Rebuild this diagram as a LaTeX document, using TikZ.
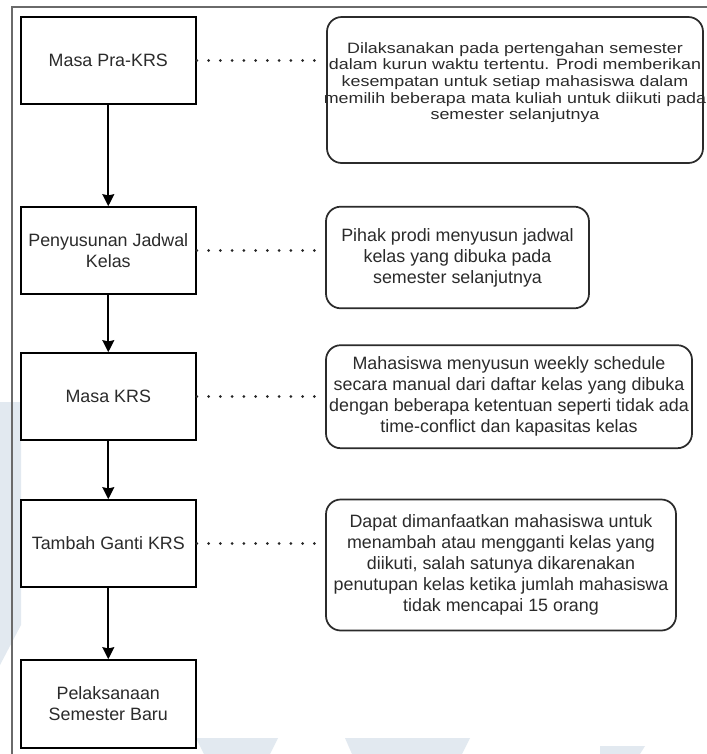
\documentclass[tikz,border=0pt]{standalone}
\usepackage{fontspec}
\setmainfont{Liberation Sans}
\usepackage{graphicx}
\usetikzlibrary{arrows.meta}
\definecolor{txt}{HTML}{2B2B2B}
\definecolor{framec}{HTML}{6A6A6A}
\definecolor{wmark}{HTML}{E2E9F0}
\begin{document}
\begin{tikzpicture}[x=0.75pt,y=-0.75pt,
  stepbox/.style={draw=black,fill=white,line width=1.3pt,minimum width=131.5pt,
    minimum height=65.25pt,inner sep=0pt,align=center,text=txt,
    font=\fontsize{13.4pt}{15.9pt}\selectfont},
  notebox/.style={draw=txt,fill=white,line width=1.3pt,rounded corners=11pt,
    inner sep=0pt,align=center,text=txt,font=\fontsize{13.4pt}{15.75pt}\selectfont},
  notetext/.style={inner sep=0pt,align=center,text=txt,font=\fontsize{13.4pt}{15.4pt}\selectfont},
  flow/.style={draw=black,line width=1.3pt,-{Stealth[length=9pt,width=9pt,inset=1pt]}},
  link/.style={draw=black!85,line width=2.3pt,line cap=round,dash pattern=on 0pt off 8.82pt}
]
\useasboundingbox (0,0) rectangle (707,754);
\clip (0,0) rectangle (707,754);
\fill[white] (0,0) rectangle (707,754);
% faint watermark
\fill[wmark] (0,402) -- (21,402) -- (21,625) -- (0,665) -- cycle;
\fill[wmark] (196,738) -- (278,738) -- (270,754) -- (204,754) -- cycle;
\fill[wmark] (345,738) -- (470,738) -- (462,754) -- (352,754) -- cycle;
\fill[wmark] (600,746) -- (645,746) -- (640,754) -- (600,754) -- cycle;
% outer frame
\coordinate (fa) at (12,760);
\coordinate (fb) at (12,7.3);
\coordinate (fc) at (715,7.3);
\draw[framec,line width=1.3pt] (fa) -- (fb) -- (fc);

% process boxes
\node[stepbox] (b1) at (108.3,60.5) {Masa Pra-KRS};
\node[stepbox] (b2) at (108.3,250.5) {Penyusunan Jadwal\\Kelas};
\node[stepbox] (b3) at (108.3,396.5) {Masa KRS};
\node[stepbox] (b4) at (108.3,543.5) {Tambah Ganti KRS};
\node[stepbox,minimum height=66pt] (b5) at (108.3,704) {Pelaksanaan\\Semester Baru};

% note boxes
\node[notebox,minimum width=282pt,minimum height=109.5pt] (r1) at (515,90) {};
\node[notetext] (t1) at (515,83) {\scalebox{1}[0.84]{\begin{tabular}{@{}c@{}}Dilaksanakan pada pertengahan semester\\[-0.5pt] dalam kurun waktu tertentu. Prodi memberikan\\[-0.5pt] kesempatan untuk setiap mahasiswa dalam\\[-0.5pt] memilih beberapa mata kuliah untuk diikuti pada\\[-0.5pt] semester selanjutnya\end{tabular}}};
\node[notebox,minimum width=197.25pt,minimum height=76.2pt] (r2) at (457.5,257.5)
  {Pihak prodi menyusun jadwal\\kelas yang dibuka pada\\semester selanjutnya};
\node[notebox,minimum width=274.5pt,minimum height=77.25pt] (r3) at (509,396.7)
  {Mahasiswa menyusun weekly schedule\\secara manual dari daftar kelas yang dibuka\\dengan beberapa ketentuan seperti tidak ada\\time-conflict dan kapasitas kelas};
\node[notebox,minimum width=262.5pt,minimum height=98.25pt] (r4) at (501,565)
  {Dapat dimanfaatkan mahasiswa untuk\\menambah atau mengganti kelas yang\\diikuti, salah satunya dikarenakan\\penutupan kelas ketika jumlah mahasiswa\\tidak mencapai 15 orang};

% flow arrows
\draw[flow] (b1) -- (b2);
\draw[flow] (b2) -- (b3);
\draw[flow] (b3) -- (b4);
\draw[flow] (b4) -- (b5);

% dotted links
\draw[link] (b1.east) -- (b1.east -| r1.west);
\draw[link] (b2.east) -- (b2.east -| r2.west);
\draw[link] (b3.east) -- (b3.east -| r3.west);
\draw[link] (b4.east) -- (b4.east -| r4.west);
\end{tikzpicture}
\end{document}
